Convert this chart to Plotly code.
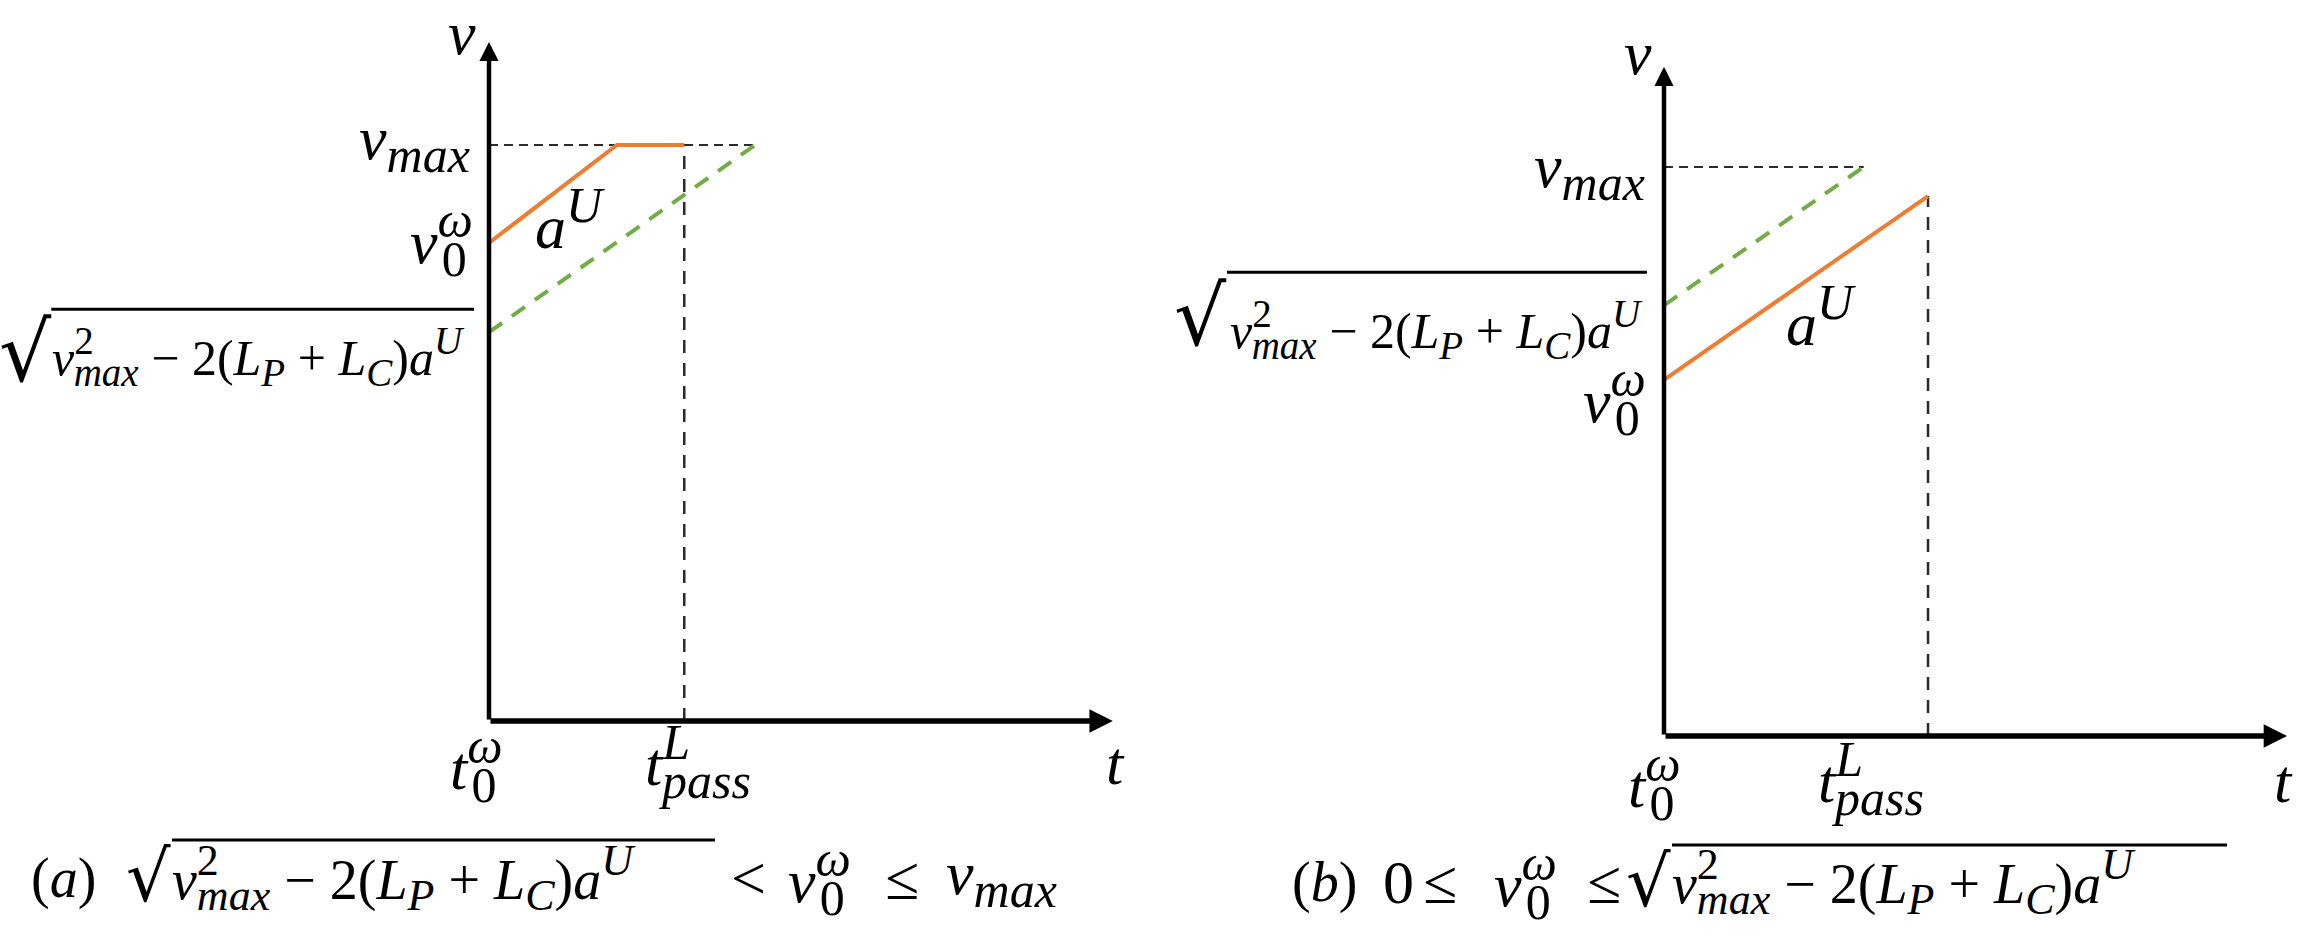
import plotly.graph_objects as go

# ---- data (units: v_max = 10) ----
# panel (a): sqrt(v_max^2 - 2(Lp+Lc)aU) < v0 <= v_max
A_T_ORANGE = [0, 2.22, 3.39]
A_V_ORANGE = [8.30, 10, 10]
A_T_GREEN = [0, 4.62]
A_V_GREEN = [6.75, 10]
A_T_PASS = 3.39
A_V_MAX = 10
A_T_END, A_V_END = 10.83, 11.79

# panel (b): 0 <= v0 <= sqrt(...)
B_T_ORANGE = [0, 4.64]
B_V_ORANGE = [6.26, 9.49]
B_T_GREEN = [0, 3.51]
B_V_GREEN = [7.57, 10]
B_T_PASS = 4.64
B_V_MAX = 10
B_T_END, B_V_END = 10.95, 11.76

ORANGE = "#ED7D31"
GREEN = "#70AD47"
DASH_BLACK = "#2b2b2b"
FONT = "Liberation Serif"
ROOT_FONT = "DejaVu Serif"
W, H = 2319, 949
F_MAIN = 62
F_RAD = 50
F_CAP_RAD = 56


def _script(tag, s, base, k, back):
    size = round(base * k)
    style = f"font-size:{size}px"
    if back:
        style += f";letter-spacing:-{round(back * size)}px"
    return f"<{tag}><span style='{style}'>{s}</span></{tag}>"


def sup(s, base, k=0.8, back=0.0):
    return _script("sup", s, base, k, back)


def sub(s, base, k=0.8, back=0.0):
    return _script("sub", s, base, k, back)


# superscript drawn above the subscript (negative spacing pulls the sub back)
def v0(b):
    return "<i>v</i>" + sup("<i>ω</i>", b, back=0.62) + sub("0", b)


def t0(b):
    return "<i>t</i>" + sup("<i>ω</i>", b, back=0.62) + sub("0", b)


def tpass(b):
    return "<i>t</i>" + sup("<i>L</i>", b, back=0.55) + sub("<i>pass</i>", b)


def vmax(b):
    return "<i>v</i>" + sub("<i>max</i>", b)


def a_u(b):
    return "<i>a</i>" + sup("<i>U</i>", b)


def radicand(b, k=0.78):
    return ("<i>v</i>" + sup("2", b, k, back=0.5) + sub("<i>max</i>", b, k)
            + " − 2(<i>L</i>" + sub("<i>P</i>", b, k) + " + <i>L</i>" + sub("<i>C</i>", b, k)
            + ")<i>a</i>" + sup("<i>U</i>", b, k))


fig = go.Figure()


def panel(xa, ya, t_or, v_or, t_gr, v_gr, t_pass, v_pass_top, v_max, t_end, v_end):
    kw = dict(xaxis=xa, yaxis=ya, mode="lines", hoverinfo="skip", showlegend=False)
    # v_max reference (dashed black)
    fig.add_trace(go.Scatter(x=[0, t_gr[-1]], y=[v_max, v_max],
                             line=dict(color=DASH_BLACK, width=2, dash="9px,6px"), **kw))
    # t_pass reference
    fig.add_trace(go.Scatter(x=[t_pass, t_pass], y=[0, v_pass_top],
                             line=dict(color=DASH_BLACK, width=2.5, dash="13px,10px"), **kw))
    fig.add_trace(go.Scatter(x=t_gr, y=v_gr,
                             line=dict(color=GREEN, width=4, dash="16px,12px"), **kw))
    fig.add_trace(go.Scatter(x=t_or, y=v_or, line=dict(color=ORANGE, width=4), **kw))
    xr, yr = xa.replace("axis", ""), ya.replace("axis", "")
    for x, y, w in [(t_end, 0, 5.5), (0, v_end, 4.5)]:
        fig.add_annotation(x=x, y=y, ax=0, ay=0, xref=xr, yref=yr, axref=xr, ayref=yr,
                           text="", showarrow=True, arrowhead=2, arrowsize=0.85,
                           arrowwidth=w, arrowcolor="black")


panel("x", "y", A_T_ORANGE, A_V_ORANGE, A_T_GREEN, A_V_GREEN, A_T_PASS, A_V_MAX,
      A_V_MAX, A_T_END, A_V_END)
panel("x2", "y2", B_T_ORANGE, B_V_ORANGE, B_T_GREEN, B_V_GREEN, B_T_PASS, B_V_ORANGE[-1],
      B_V_MAX, B_T_END, B_V_END)


def label(text, x, y, ref, size=F_MAIN, xanchor="center", yanchor="middle",
          family=FONT, height=None):
    fig.add_annotation(x=x, y=y, xref="x" + ref, yref="y" + ref, text=text,
                       showarrow=False, xanchor=xanchor, yanchor=yanchor, height=height,
                       font=dict(family=family, size=size, color="black"))


def vinculum(x0, x1, y, xref, yref, width=3):
    fig.add_shape(type="line", x0=x0, x1=x1, y0=y, y1=y, xref=xref, yref=yref,
                  line=dict(color="black", width=width))


# panel (a) labels
label("<i>v</i>", -0.47, 11.94, "", height=44)
label(vmax(F_MAIN), -0.30, 10.03, "", xanchor="right")
label(v0(F_MAIN), -0.26, 8.36, "", xanchor="right")
label(a_u(F_MAIN), 1.40, 8.72, "")
label(radicand(F_RAD), -0.38, 6.32, "", size=F_RAD, xanchor="right")
label("√", -7.56, 7.25, "", size=82, xanchor="right", yanchor="top", family=ROOT_FONT)
vinculum(-7.60, -0.26, 7.15, "x", "y")
label(t0(F_MAIN), -0.23, -0.78, "")
label(tpass(F_MAIN), 3.63, -0.80, "")
label("<i>t</i>", 10.87, -0.73, "")

# panel (b) labels
label("<i>v</i>", -0.46, 12.0, "2", height=44)
label(vmax(F_MAIN), -0.30, 9.92, "2", xanchor="right")
label(v0(F_MAIN), -0.30, 5.94, "2", xanchor="right")
label(a_u(F_MAIN), 2.76, 7.38, "2")
label(radicand(F_RAD), -0.33, 7.14, "2", size=F_RAD, xanchor="right")
label("√", -7.64, 8.25, "2", size=82, xanchor="right", yanchor="top", family=ROOT_FONT)
vinculum(-7.68, -0.30, 8.15, "x2", "y2")
label(t0(F_MAIN), -0.18, -0.83, "2")
label(tpass(F_MAIN), 3.64, -0.85, "2")
label("<i>t</i>", 10.88, -0.79, "2")


# captions (paper coordinates)
def cap(text, x, y, size=F_MAIN, xanchor="left", yanchor="middle", family=FONT):
    fig.add_annotation(x=x / W, y=1 - y / H, xref="paper", yref="paper", text=text,
                       showarrow=False, xanchor=xanchor, yanchor=yanchor,
                       font=dict(family=family, size=size, color="black"))


CY_A, CY_B = 878, 882
cap("(<i>a</i>)", 29, CY_A, size=56)
cap("√", 173, 834, size=70, xanchor="right", yanchor="top", family=ROOT_FONT)
cap(radicand(F_CAP_RAD), 170, CY_A, size=F_CAP_RAD)
cap("<", 729, CY_A)
cap(v0(F_MAIN), 786, CY_A)
cap("≤", 883, CY_A)
cap(vmax(F_MAIN), 944, CY_A)
fig.add_shape(type="line", x0=172 / W, x1=715 / W, y0=1 - 840 / H, y1=1 - 840 / H,
              xref="paper", yref="paper", line=dict(color="black", width=3))

cap("(<i>b</i>)", 1290, CY_B, size=56)
cap("0", 1381, CY_B)
cap("≤", 1421, CY_B)
cap(v0(F_MAIN), 1492, CY_B)
cap("≤", 1585, CY_B)
cap("√", 1673, 839, size=70, xanchor="right", yanchor="top", family=ROOT_FONT)
cap(radicand(F_CAP_RAD), 1670, CY_B, size=F_CAP_RAD)
fig.add_shape(type="line", x0=1672 / W, x1=2227 / W, y0=1 - 845 / H, y1=1 - 845 / H,
              xref="paper", yref="paper", line=dict(color="black", width=3))

# axes: map data units onto the canvas
A_O, A_PPU = (489, 721), 57.6
B_O, B_PPU = (1664, 736), 56.9
half = W / 2
ax_common = dict(visible=False, fixedrange=True)
fig.update_layout(
    width=W, height=H, margin=dict(l=0, r=0, t=0, b=0),
    paper_bgcolor="white", plot_bgcolor="white", hovermode=False,
    xaxis=dict(domain=[0, 0.5], range=[-A_O[0] / A_PPU, (half - A_O[0]) / A_PPU], **ax_common),
    yaxis=dict(domain=[0, 1], range=[(A_O[1] - H) / A_PPU, A_O[1] / A_PPU], **ax_common),
    xaxis2=dict(domain=[0.5, 1], range=[(half - B_O[0]) / B_PPU, (W - B_O[0]) / B_PPU],
                **ax_common),
    yaxis2=dict(domain=[0, 1], range=[(B_O[1] - H) / B_PPU, B_O[1] / B_PPU], **ax_common),
)

fig.write_html("out.html", config={"displayModeBar": False},
               post_script="document.body.style.margin='0';")
